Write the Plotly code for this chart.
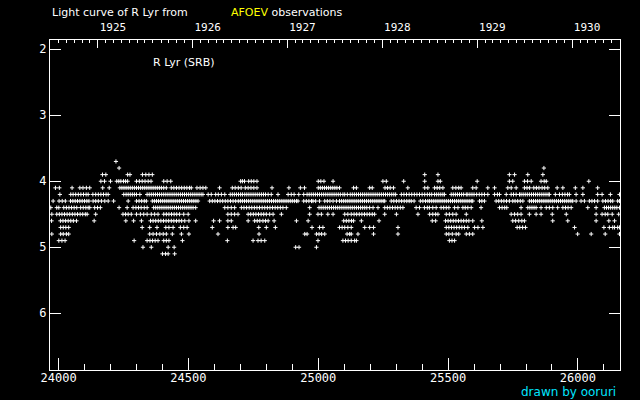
import datetime
import plotly.graph_objects as go

# visual estimates of R Lyr from AFOEV, JD - 2400000, grouped by magnitude
jd_37 = [24221]
jd_38 = [24233, 25869]
jd_39 = [24169, 24182, 24266, 24275, 24323, 24336, 24348, 24361, 25410, 25461,
         25736, 25756, 25807, 25865]
jd_40 = [24163, 24177, 24200, 24224, 24232, 24240, 24250, 24258, 24266, 24300,
         24311, 24322, 24333, 24345, 24356, 24405, 24418, 24432, 24701, 24708,
         24716, 24732, 24742, 24752, 24764, 25000, 25010, 25022, 25057, 25249,
         25262, 25329, 25410, 25461, 25470, 25612, 25736, 25749, 25794, 25806,
         25820, 25858, 25870, 25878, 26042]
jd_41 = [23988, 24003, 24052, 24082, 24094, 24107, 24120, 24170, 24195, 24236,
         24244, 24252, 24260, 24268, 24276, 24284, 24292, 24300, 24308, 24316,
         24324, 24332, 24340, 24348, 24356, 24364, 24372, 24380, 24388, 24396,
         24405, 24415, 24434, 24444, 24454, 24464, 24474, 24484, 24494, 24504,
         24511, 24533, 24545, 24556, 24567, 24620, 24669, 24680, 24692, 24703,
         24719, 24730, 24741, 24752, 24764, 24822, 24887, 24931, 24947, 25000,
         25008, 25016, 25024, 25032, 25040, 25048, 25056, 25064, 25072, 25082,
         25136, 25147, 25198, 25208, 25257, 25267, 25277, 25290, 25345, 25410,
         25422, 25448, 25458, 25468, 25480, 25518, 25530, 25541, 25550, 25595,
         25608, 25653, 25679, 25730, 25743, 25762, 25794, 25804, 25814, 25830,
         25840, 25850, 25862, 25872, 25884, 25920, 25942, 25990, 26019, 26076]
jd_42 = [24005, 24047, 24056, 24066, 24076, 24086, 24096, 24106, 24114, 24132,
         24143, 24153, 24163, 24173, 24183, 24191, 24251, 24260, 24268, 24276,
         24284, 24292, 24300, 24313, 24341, 24349, 24357, 24365, 24373, 24381,
         24389, 24397, 24405, 24413, 24421, 24429, 24437, 24445, 24453, 24461,
         24469, 24477, 24485, 24493, 24501, 24509, 24517, 24525, 24533, 24541,
         24549, 24556, 24576, 24588, 24605, 24615, 24627, 24640, 24661, 24669,
         24677, 24685, 24693, 24701, 24708, 24717, 24725, 24733, 24741, 24749,
         24757, 24765, 24773, 24781, 24789, 24797, 24807, 24819, 24845, 24884,
         24896, 24907, 24925, 24944, 24957, 24965, 24973, 24981, 24989, 24997,
         25005, 25013, 25021, 25029, 25037, 25045, 25053, 25061, 25069, 25077,
         25085, 25095, 25102, 25112, 25123, 25131, 25139, 25147, 25155, 25163,
         25171, 25179, 25187, 25195, 25203, 25211, 25219, 25227, 25235, 25243,
         25251, 25259, 25267, 25275, 25283, 25291, 25298, 25320, 25330, 25340,
         25350, 25360, 25370, 25380, 25390, 25400, 25410, 25420, 25429, 25437,
         25448, 25456, 25464, 25472, 25480, 25486, 25512, 25520, 25528, 25536,
         25544, 25552, 25560, 25570, 25576, 25584, 25592, 25600, 25610, 25620,
         25630, 25640, 25653, 25679, 25690, 25698, 25724, 25743, 25752, 25762,
         25775, 25781, 25789, 25797, 25805, 25813, 25821, 25829, 25837, 25845,
         25853, 25861, 25869, 25877, 25885, 25890, 25913, 25929, 25940, 25950,
         25960, 25967, 25993, 26019, 26076, 26093, 26125, 26160]
jd_43 = [23979, 24002, 24014, 24026, 24046, 24055, 24064, 24073, 24082, 24091,
         24100, 24109, 24117, 24133, 24143, 24153, 24165, 24178, 24191, 24212,
         24268, 24300, 24310, 24320, 24330, 24338, 24361, 24369, 24377, 24385,
         24393, 24401, 24409, 24417, 24425, 24433, 24441, 24449, 24457, 24465,
         24473, 24481, 24489, 24497, 24505, 24513, 24521, 24529, 24537, 24582,
         24592, 24602, 24612, 24622, 24632, 24642, 24652, 24662, 24672, 24682,
         24692, 24700, 24708, 24716, 24724, 24732, 24740, 24748, 24756, 24764,
         24772, 24780, 24788, 24796, 24804, 24812, 24820, 24828, 24836, 24844,
         24852, 24860, 24868, 24876, 24884, 24892, 24900, 24908, 24916, 24922,
         24944, 24954, 24964, 24974, 24980, 24990, 25005, 25025, 25035, 25045,
         25057, 25070, 25082, 25090, 25098, 25106, 25114, 25122, 25130, 25138,
         25146, 25154, 25162, 25170, 25178, 25186, 25194, 25202, 25210, 25218,
         25226, 25234, 25242, 25250, 25256, 25281, 25291, 25301, 25311, 25321,
         25331, 25341, 25350, 25358, 25369, 25393, 25403, 25413, 25422, 25429,
         25437, 25445, 25453, 25461, 25469, 25477, 25485, 25493, 25501, 25509,
         25517, 25525, 25533, 25541, 25549, 25557, 25565, 25573, 25581, 25589,
         25595, 25621, 25630, 25640, 25685, 25695, 25705, 25715, 25725, 25736,
         25749, 25758, 25768, 25778, 25788, 25813, 25821, 25829, 25837, 25845,
         25853, 25861, 25869, 25877, 25885, 25893, 25901, 25909, 25917, 25925,
         25933, 25941, 25949, 25957, 25965, 25973, 25980, 25993, 26012, 26025,
         26044, 26054, 26064, 26076, 26096, 26106, 26116, 26126, 26134, 26153,
         26160]
jd_44 = [23970, 23993, 24001, 24020, 24030, 24040, 24050, 24060, 24070, 24085,
         24095, 24105, 24114, 24120, 24139, 24150, 24161, 24233, 24264, 24287,
         24298, 24308, 24318, 24330, 24341, 24366, 24374, 24382, 24390, 24398,
         24406, 24414, 24422, 24430, 24438, 24446, 24454, 24462, 24470, 24478,
         24486, 24494, 24502, 24510, 24518, 24528, 24640, 24652, 24665, 24678,
         24704, 24714, 24724, 24734, 24744, 24754, 24764, 24774, 24784, 24794,
         24804, 24814, 24824, 24834, 24844, 24854, 24864, 24877, 24967, 25003,
         25011, 25019, 25027, 25035, 25043, 25051, 25059, 25067, 25075, 25083,
         25091, 25099, 25107, 25115, 25123, 25131, 25139, 25147, 25155, 25163,
         25171, 25179, 25187, 25198, 25211, 25230, 25256, 25266, 25276, 25286,
         25296, 25306, 25316, 25326, 25377, 25390, 25409, 25420, 25428, 25441,
         25454, 25473, 25483, 25493, 25503, 25525, 25538, 25557, 25566, 25576,
         25589, 25627, 25698, 25708, 25718, 25726, 25781, 25807, 25815, 25823,
         25831, 25839, 25858, 25878, 25890, 25903, 25922, 25942, 25952, 25962,
         25974, 26038, 26070, 26102, 26110, 26118, 26126, 26134, 26142, 26150,
         26160]
jd_45 = [23974, 23993, 24003, 24013, 24023, 24033, 24043, 24053, 24063, 24073,
         24083, 24093, 24103, 24110, 24143, 24248, 24258, 24268, 24280, 24300,
         24315, 24328, 24341, 24357, 24370, 24383, 24405, 24415, 24425, 24435,
         24445, 24455, 24466, 24482, 24499, 24652, 24665, 24678, 24691, 24730,
         24740, 24750, 24760, 24770, 24780, 24790, 24800, 24813, 24826, 24858,
         24967, 24999, 25012, 25037, 25057, 25102, 25114, 25127, 25138, 25148,
         25158, 25168, 25178, 25188, 25198, 25208, 25217, 25256, 25301, 25384,
         25429, 25441, 25452, 25461, 25493, 25505, 25518, 25531, 25570, 25743,
         25756, 25768, 25781, 25813, 25839, 25858, 25901, 25955, 26070, 26093,
         26105, 26115, 26132, 26157]
jd_46 = [23973, 24007, 24017, 24027, 24037, 24047, 24057, 24069, 24137, 24259,
         24289, 24319, 24354, 24364, 24374, 24384, 24394, 24404, 24414, 24424,
         24434, 24444, 24454, 24464, 24474, 24486, 24502, 24528, 24597, 24620,
         24652, 24665, 24730, 24755, 24765, 24775, 24787, 24797, 24807, 24830,
         24916, 24961, 25098, 25108, 25118, 25128, 25136, 25166, 25234, 25439,
         25452, 25490, 25500, 25510, 25520, 25530, 25540, 25550, 25560, 25570,
         25580, 25595, 25630, 25749, 25760, 25772, 25784, 25794, 25903, 25961,
         26070, 26119, 26141]
jd_47 = [24008, 24018, 24028, 24039, 24322, 24351, 24379, 24413, 24425, 24441,
         24469, 24482, 24495, 24592, 24652, 24672, 24682, 24771, 24800, 24835,
         24976, 25005, 25018, 25082, 25092, 25102, 25114, 25127, 25179, 25198,
         25213, 25307, 25493, 25503, 25513, 25523, 25533, 25543, 25553, 25563,
         25576, 25602, 25615, 25634, 25766, 25776, 25787, 25798, 25987, 26100,
         26121, 26134, 26141, 26153, 26160]
jd_48 = [23974, 24008, 24018, 24030, 24039, 24351, 24364, 24377, 24390, 24403,
         24415, 24438, 24473, 24502, 24614, 24772, 24948, 24957, 24993, 25003,
         25013, 25025, 25111, 25121, 25127, 25153, 25213, 25307, 25493, 25503,
         25516, 25531, 25541, 25570, 25582, 25595, 25999, 26051, 26105, 26160]
jd_49 = [24001, 24013, 24025, 24291, 24341, 24352, 24362, 24372, 24383, 24405,
         24415, 24425, 24477, 24650, 24749, 24768, 24780, 24794, 24999, 25095,
         25105, 25115, 25127, 25140, 25147, 25505, 25515, 25525]
jd_50 = [24325, 24357, 24422, 24445, 24913, 24926, 24993]
jd_51 = [24400, 24412, 24422, 24447]

observations = {
    3.7: jd_37, 3.8: jd_38, 3.9: jd_39, 4.0: jd_40, 4.1: jd_41, 4.2: jd_42,
    4.3: jd_43, 4.4: jd_44, 4.5: jd_45, 4.6: jd_46, 4.7: jd_47, 4.8: jd_48,
    4.9: jd_49, 5.0: jd_50, 5.1: jd_51,
}

years = [1925, 1926, 1927, 1928, 1929, 1930]

font = 'DejaVu Sans'
mono = 'DejaVu Sans Mono'


def to_jd(d):
    # JD - 2400000 at 0h UT
    return (d - datetime.date(1858, 11, 17)).days + 0.5


year_ticks = [to_jd(datetime.date(y, 1, 1)) for y in years]
month_ticks = [to_jd(datetime.date(y, m, 1)) for y in range(1924, 1931) for m in range(1, 13)]

x_range = [23967, 26162]

xs, ys = [], []
for mag, jds in observations.items():
    xs.extend(jds)
    ys.extend([mag] * len(jds))

fig = go.Figure()

fig.add_trace(go.Scatter(
    x=xs, y=ys,
    mode='markers',
    marker={'symbol': 'cross-thin', 'size': 3, 'line': {'color': 'white', 'width': 1}},
    hoverinfo='x+y',
))

# empty trace so the top (year) axis is drawn
fig.add_trace(go.Scatter(x=[], y=[], xaxis='x2', showlegend=False))

fig.update_layout({
    'width': 640, 'height': 400,
    'margin': {'l': 50, 'r': 20, 't': 40, 'b': 30},
    'paper_bgcolor': 'black',
    'plot_bgcolor': 'black',
    'showlegend': False,
    'xaxis': {
        'range': x_range, 'showgrid': False, 'zeroline': False,
        'showline': True, 'linecolor': 'white', 'linewidth': 1, 'mirror': True,
        'tickmode': 'linear', 'tick0': 24000, 'dtick': 500,
        'ticks': 'inside', 'ticklen': 12, 'tickcolor': 'white', 'tickwidth': 1,
        'minor': {'tick0': 24000, 'dtick': 100, 'ticks': 'inside', 'ticklen': 6,
                  'tickcolor': 'white', 'tickwidth': 1},
        'ticklabelstandoff': -3,
        'tickfont': {'family': mono, 'size': 12, 'color': 'white'},
        'tickformat': 'd',
    },
    'xaxis2': {
        'overlaying': 'x', 'side': 'top', 'range': x_range,
        'showgrid': False, 'zeroline': False,
        'showline': True, 'linecolor': 'white', 'linewidth': 1,
        'tickmode': 'array', 'tickvals': year_ticks, 'ticktext': [str(y) for y in years],
        'ticks': 'inside', 'ticklen': 8, 'tickcolor': 'white', 'tickwidth': 1,
        'minor': {'tickmode': 'array', 'tickvals': month_ticks, 'ticks': 'inside',
                  'ticklen': 3, 'tickcolor': 'white', 'tickwidth': 1},
        'ticklabelshift': 15, 'ticklabelstandoff': 4,
        'tickfont': {'family': mono, 'size': 11, 'color': 'white'},
    },
    'yaxis': {
        'range': [6.86, 1.86], 'showgrid': False, 'zeroline': False,
        'showline': True, 'linecolor': 'white', 'linewidth': 1, 'mirror': 'ticks',
        'tickmode': 'linear', 'tick0': 2, 'dtick': 1,
        'ticks': 'inside', 'ticklen': 11, 'tickcolor': 'white', 'tickwidth': 1,
        'tickfont': {'family': mono, 'size': 12, 'color': 'white'},
    },
    'annotations': [
        {'text': 'Light curve of R Lyr from', 'xref': 'paper', 'yref': 'paper',
         'x': 0, 'y': 1.084, 'xanchor': 'left', 'yanchor': 'middle', 'showarrow': False,
         'font': {'family': font, 'size': 11, 'color': 'white'}},
        {'text': '<span style="color:#ffff00">AFOEV</span> observations',
         'xref': 'paper', 'yref': 'paper', 'x': 0.314, 'y': 1.084,
         'xanchor': 'left', 'yanchor': 'middle', 'showarrow': False,
         'font': {'family': font, 'size': 11, 'color': 'white'}},
        {'text': 'R Lyr (SRB)', 'xref': 'paper', 'yref': 'paper',
         'x': 0.177, 'y': 0.932, 'xanchor': 'left', 'yanchor': 'middle', 'showarrow': False,
         'font': {'family': font, 'size': 11, 'color': 'white'}},
        {'text': 'drawn by ooruri', 'xref': 'paper', 'yref': 'paper',
         'x': 0.997, 'y': -0.066, 'xanchor': 'right', 'yanchor': 'middle', 'showarrow': False,
         'font': {'family': font, 'size': 12, 'color': '#00e5ff'}},
    ],
})

# drop the browser's default body margin so the 640x400 figure fills the window
fig.write_html("out.html", config={'displayModeBar': False},
               post_script="document.body.style.margin = '0';")
